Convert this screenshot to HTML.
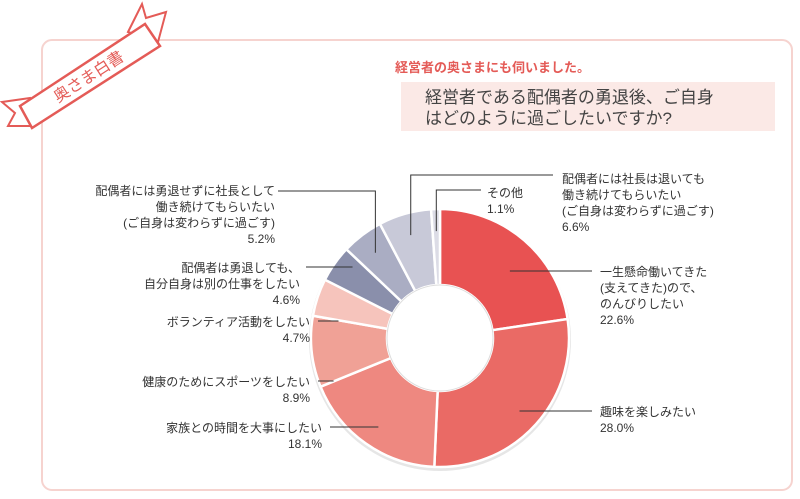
<!DOCTYPE html>
<html><head><meta charset="utf-8">
<style>
body{margin:0;width:800px;height:494px;background:#fff;overflow:hidden;font-family:"Liberation Sans","Noto Sans CJK JP",sans-serif;}
svg text{font-family:"Liberation Sans","Noto Sans CJK JP",sans-serif;}
</style></head><body>
<svg width="800" height="494" viewBox="0 0 800 494">
<rect x="42" y="40" width="750" height="450" rx="10" fill="#fff" stroke="#f6d3cf" stroke-width="2"/>
<g>
<polygon points="30,98 2,102 15,113 8,126 34,126" fill="#fff" stroke="#e45b57" stroke-width="2"/>
<polygon points="128,32 142,4 146,18 166,12 158,42" fill="#fff" stroke="#e45b57" stroke-width="2"/>
<polygon points="20,106 145,24 160,46 32,128" fill="#fff" stroke="#e45b57" stroke-width="2.5"/>
<text x="0" y="0" transform="translate(58,103) rotate(-33)" font-size="16" fill="#e45b57">奥さま白書</text>
</g>
<text x="395" y="72" font-size="13" fill="#e45b57" font-weight="bold">経営者の奥さまにも伺いました。</text>
<rect x="401" y="82" width="374" height="49" fill="#fbe9e6"/>
<text x="425" y="103" font-size="17" fill="#444">経営者である配偶者の勇退後、ご自身</text>
<text x="425" y="124" font-size="17" fill="#444">はどのように過ごしたいですか?</text>
<g id="donut"></g>
<g id="labels" font-size="12" fill="#333"></g>
</svg>
<script>
const categories=["一生懸命働いてきた(支えてきた)ので、のんびりしたい","趣味を楽しみたい","家族との時間を大事にしたい","健康のためにスポーツをしたい","ボランティア活動をしたい","配偶者は勇退しても、自分自身は別の仕事をしたい","配偶者には勇退せずに社長として働き続けてもらいたい","配偶者には社長は退いても働き続けてもらいたい","その他"];
const values=[22.6,28.0,18.1,8.9,4.7,4.6,5.2,6.6,1.1];
const colors=["#e85252","#ea6a65","#ee8880","#f0a196","#f6c4bc","#8a8fab","#aaadc3","#c8c9d8","#dcdce6"];
const labelLines=[["一生懸命働いてきた","(支えてきた)ので、","のんびりしたい"],["趣味を楽しみたい"],["家族との時間を大事にしたい"],["健康のためにスポーツをしたい"],["ボランティア活動をしたい"],["配偶者は勇退しても、","自分自身は別の仕事をしたい"],["配偶者には勇退せずに社長として","働き続けてもらいたい","(ご自身は変わらずに過ごす)"],["配偶者には社長は退いても","働き続けてもらいたい","(ご自身は変わらずに過ごす)"],["その他"]];
const cx=440,cy=338,R=129,r=53;
const NS="http://www.w3.org/2000/svg";
const total=values.reduce((a,b)=>a+b,0);
function pt(a,rad){return [cx+rad*Math.sin(a),cy-rad*Math.cos(a)];}
const g=document.getElementById('donut');
const sh=document.createElementNS(NS,'circle');
sh.setAttribute('cx',cx);sh.setAttribute('cy',cy+2);sh.setAttribute('r',R+2);sh.setAttribute('fill','#e6e6e6');


g.appendChild(sh);
let acc=0;const mids=[];
values.forEach((v,i)=>{
 const a0=acc/total*2*Math.PI;acc+=v;const a1=acc/total*2*Math.PI;mids.push((a0+a1)/2);
 const [x0,y0]=pt(a0,R),[x1,y1]=pt(a1,R),[x2,y2]=pt(a1,r),[x3,y3]=pt(a0,r);
 const lg=(a1-a0)>Math.PI?1:0;
 const p=document.createElementNS(NS,'path');
 p.setAttribute('d',`M${x0},${y0}A${R},${R} 0 ${lg} 1 ${x1},${y1}L${x2},${y2}A${r},${r} 0 ${lg} 0 ${x3},${y3}Z`);
 p.setAttribute('fill',colors[i]);p.setAttribute('stroke','#fff');p.setAttribute('stroke-width','2.5');
 
 
 g.appendChild(p);
});
const hole=document.createElementNS(NS,'circle');
hole.setAttribute('cx',cx);hole.setAttribute('cy',cy);hole.setAttribute('r',r);hole.setAttribute('fill','#fff');hole.setAttribute('stroke','#ddd');


g.appendChild(hole);
// [textX, firstBaselineY, anchor, leaderStartX, leaderY]
const layout=[[600,276,'start',592,271],[600,416,'start',592,411],[322,432,'end',330,427],[310,386,'end',318,381],[310,326,'end',318,321],[300,272,'end',306,267],[275,195,'end',278,191],[562,183,'start',553,175],[487,197,'start',481,190]];
const L=document.getElementById('labels');
values.forEach((v,i)=>{
 const [tx,ty,anc,lx,ly]=layout[i];const lines=labelLines[i].concat([v.toFixed(1)+'%']);
 const t=document.createElementNS(NS,'text');t.setAttribute('x',tx);t.setAttribute('y',ty);t.setAttribute('text-anchor',anc);
 
 
 lines.forEach((s,k)=>{const ts=document.createElementNS(NS,'tspan');ts.setAttribute('x',tx);ts.setAttribute('dy',k?16:0);ts.textContent=s;t.appendChild(ts);});
 L.appendChild(t);
 const [ex,ey]=pt(mids[i],R-22);
 const pl=document.createElementNS(NS,'polyline');
 const pts=(i>=6)?`${lx},${ly} ${ex},${ly} ${ex},${ey}`:`${lx},${ly} ${ex},${ly}`;
 pl.setAttribute('points',pts);pl.setAttribute('fill','none');pl.setAttribute('stroke','#333');pl.setAttribute('stroke-width','1');
 
 
 L.appendChild(pl);
});
</script>
</body></html>
